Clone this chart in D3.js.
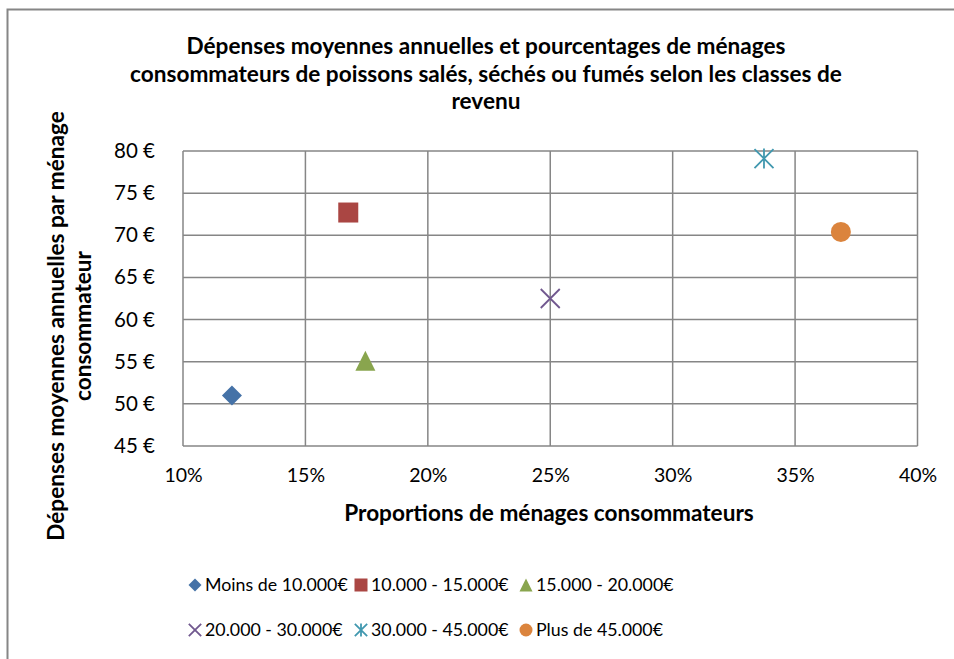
<!DOCTYPE html>
<html>
<head>
<meta charset="utf-8">
<script src="https://cdn.jsdelivr.net/npm/d3@7"></script>
<style>
  html, body { margin: 0; padding: 0; background: #fff; }
  svg { display: block; font-family: Lato, "Open Sans", sans-serif; }
</style>
</head>
<body>
<svg id="chart" width="954" height="659"></svg>
<script>
// Income classes, share of consuming households (%) and average yearly spend (€)
const categories = ["Moins de 10.000€", "10.000 - 15.000€", "15.000 - 20.000€",
                    "20.000 - 30.000€", "30.000 - 45.000€", "Plus de 45.000€"];
const proportions = [12.0, 16.75, 17.45, 25.0, 33.73, 36.87];
const depenses = [51.0, 72.7, 55.1, 62.5, 79.1, 70.4];
const xTicks = [10, 15, 20, 25, 30, 35, 40];
const yTicks = [45, 50, 55, 60, 65, 70, 75, 80];
const colors = ["#4572A7", "#AA4643", "#89A54E", "#71588F", "#4198AF", "#DB843D"];
const shapes = ["diamond", "square", "triangle", "x", "star", "circle"];

const titleLines = ["Dépenses moyennes annuelles et pourcentages de ménages",
                    "consommateurs de poissons salés, séchés ou fumés selon les classes de",
                    "revenu"];
const yTitleLines = ["Dépenses moyennes annuelles par ménage", "consommateur"];
const xTitle = "Proportions de ménages consommateurs";

const svg = d3.select("#chart");
const grid = "#868686";

// outer chart frame (runs off the right and bottom edges)
svg.append("rect").attr("x", 7.5).attr("y", 9.5).attr("width", 980).attr("height", 700)
  .attr("fill", "#fff").attr("stroke", grid).attr("stroke-width", 2);

const plot = { left: 183, right: 917.5, top: 151, bottom: 446 };
const x = d3.scaleLinear().domain([10, 40]).range([plot.left, plot.right]);
const y = d3.scaleLinear().domain([45, 80]).range([plot.bottom, plot.top]);

// gridlines
const g = svg.append("g");
g.selectAll("line.v").data(xTicks).join("line")
  .attr("x1", d => x(d)).attr("x2", d => x(d))
  .attr("y1", plot.top).attr("y2", plot.bottom)
  .attr("stroke", grid).attr("stroke-width", 1.5);
g.selectAll("line.h").data(yTicks).join("line")
  .attr("y1", d => y(d)).attr("y2", d => y(d))
  .attr("x1", plot.left).attr("x2", plot.right)
  .attr("stroke", grid).attr("stroke-width", 1.5);

// axes (labels only, lines come from the grid)
const xAxis = d3.axisBottom(x).tickValues(xTicks).tickSize(0).tickPadding(0)
  .tickFormat(d => d + "%");
svg.append("g").attr("transform", `translate(0,${plot.bottom + 22})`).call(xAxis)
  .call(s => s.select(".domain").remove())
  .selectAll("text").attr("font-size", 19.5).attr("font-family", "Lato").attr("fill", "#000")
  .attr("dy", "0.71em");

const yAxis = d3.axisLeft(y).tickValues(yTicks).tickSize(0).tickPadding(0)
  .tickFormat(d => d + " €");
svg.append("g").attr("transform", `translate(${plot.left - 28},0)`).call(yAxis)
  .call(s => s.select(".domain").remove())
  .selectAll("text").attr("font-size", 20.5).attr("font-family", "Lato").attr("fill", "#000");

// titles
svg.append("g").selectAll("text").data(titleLines).join("text")
  .attr("x", 486).attr("y", (d, i) => 54 + i * 27.5)
  .attr("text-anchor", "middle").attr("font-weight", "bold").attr("font-size", 22.6)
  .text(d => d);

svg.append("text").attr("x", 549).attr("y", 521)
  .attr("text-anchor", "middle").attr("font-weight", "bold").attr("font-size", 22.6)
  .text(xTitle);

svg.append("g").attr("transform", "translate(0,326) rotate(-90)")
  .selectAll("text").data(yTitleLines).join("text")
  .attr("x", 0).attr("y", (d, i) => 64 + i * 27)
  .attr("text-anchor", "middle").attr("font-weight", "bold").attr("font-size", 22.6)
  .text(d => d);

// marker drawing
function marker(sel, shape, color, s) {
  const h = s / 2;
  if (shape === "diamond") {
    sel.append("path").attr("d", `M0,${-h}L${h},0L0,${h}L${-h},0Z`).attr("fill", color);
  } else if (shape === "square") {
    sel.append("rect").attr("x", -h).attr("y", -h).attr("width", s).attr("height", s).attr("fill", color);
  } else if (shape === "triangle") {
    sel.append("path").attr("d", `M0,${-h}L${h},${h}L${-h},${h}Z`).attr("fill", color);
  } else if (shape === "circle") {
    sel.append("circle").attr("r", h).attr("fill", color);
  } else if (shape === "x") {
    const k = h * 0.95;
    sel.append("path").attr("d", `M${-k},${-k}L${k},${k}M${-k},${k}L${k},${-k}`)
      .attr("stroke", color).attr("stroke-width", 1.8).attr("fill", "none");
  } else if (shape === "star") {
    const k = h * 0.95;
    sel.append("path").attr("d", `M${-k},${-k}L${k},${k}M${-k},${k}L${k},${-k}M0,${-h}L0,${h}`)
      .attr("stroke", color).attr("stroke-width", 1.8).attr("fill", "none");
  }
}

// data points
const pts = svg.append("g");
categories.forEach((c, i) => {
  const p = pts.append("g").attr("transform", `translate(${x(proportions[i])},${y(depenses[i])})`);
  marker(p, shapes[i], colors[i], 20);
});

// legend: two rows of three entries
const legX = [195, 361, 526];
const legY = [585, 630];
const leg = svg.append("g");
categories.forEach((c, i) => {
  const col = i % 3, row = Math.floor(i / 3);
  const e = leg.append("g").attr("transform", `translate(${legX[col]},${legY[row]})`);
  marker(e.append("g"), shapes[i], colors[i], 13);
  e.append("text").attr("x", 10).attr("y", 0).attr("dy", "0.36em")
    .attr("font-size", 17.8).text(c);
});
</script>
</body>
</html>
